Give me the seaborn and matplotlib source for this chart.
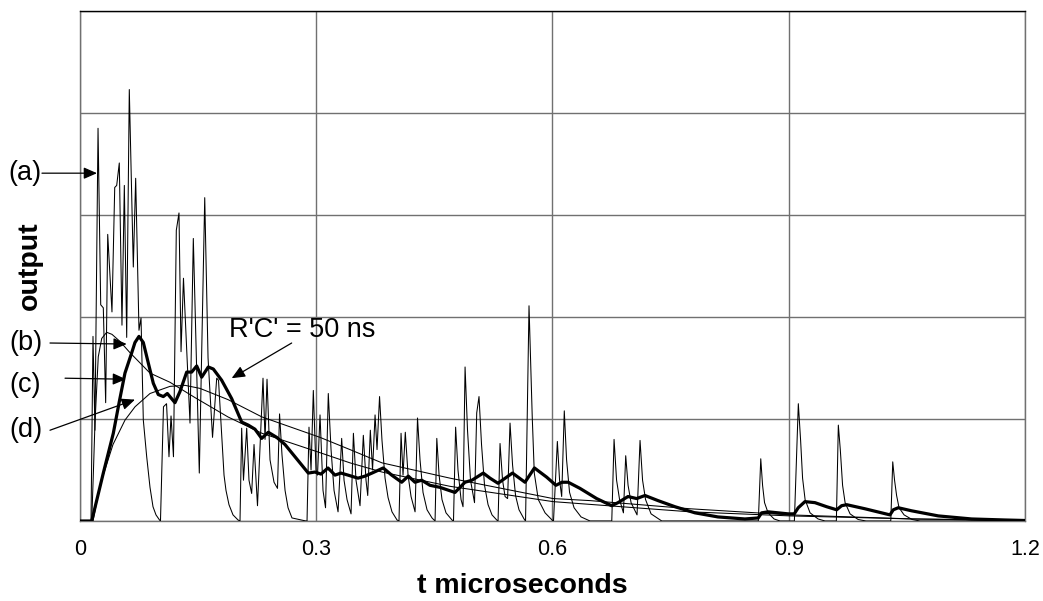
import matplotlib
matplotlib.use('Agg')
import matplotlib.pyplot as plt
import seaborn as sns
import pandas as pd

# (a) raw pulse train, vertices (t in microseconds)
trace_a_t = [0.0000, 0.0140, 0.0165, 0.0190, 0.0229, 0.0263, 0.0296, 0.0326, 0.0352, 0.0406,
             0.0441, 0.0466, 0.0499, 0.0533, 0.0563, 0.0593, 0.0626, 0.0677, 0.0707, 0.0749,
             0.0775, 0.0804, 0.0847, 0.0889, 0.0927, 0.0965, 0.1010,
             0.1022, 0.1060, 0.1099, 0.1130, 0.1156, 0.1187, 0.1223, 0.1257, 0.1283, 0.1314,
             0.1397, 0.1439, 0.1515, 0.1584, 0.1626, 0.1683, 0.1736, 0.1759, 0.1829, 0.1854,
             0.1892, 0.1943, 0.2007,
             0.2032, 0.2053, 0.2076, 0.2117, 0.2146, 0.2180, 0.2210, 0.2254, 0.2324, 0.2350,
             0.2375, 0.2413, 0.2464, 0.2508, 0.2534, 0.2565, 0.2604, 0.2642, 0.2692, 0.2870,
             0.2883, 0.2908, 0.2934, 0.2963, 0.2997, 0.3016, 0.3048, 0.3086, 0.3118, 0.3153,
             0.3188, 0.3226, 0.3277, 0.3323, 0.3353, 0.3391, 0.3442, 0.3472, 0.3505, 0.3556,
             0.3598, 0.3632, 0.3654, 0.3687, 0.3715, 0.3747, 0.3772, 0.3804, 0.3835, 0.3874,
             0.3912, 0.3962, 0.4026,
             0.4051, 0.4077, 0.4102, 0.4131, 0.4166, 0.4204, 0.4255, 0.4286, 0.4318, 0.4356,
             0.4407, 0.4470, 0.4509, 0.4531, 0.4560, 0.4597, 0.4648, 0.4724,
             0.4743, 0.4770, 0.4800, 0.4839, 0.4864, 0.4890, 0.4921, 0.4959, 0.5010, 0.5038,
             0.5067, 0.5099, 0.5137, 0.5182, 0.5232, 0.5292,
             0.5309, 0.5334, 0.5366, 0.5398, 0.5430, 0.5461, 0.5493, 0.5531, 0.5575, 0.5639,
             0.5658, 0.5702, 0.5743, 0.5769, 0.5820, 0.5906, 0.6007,
             0.6013, 0.6062, 0.6090, 0.6117, 0.6150, 0.6179, 0.6217, 0.6274, 0.6363, 0.6477,
             0.6753, 0.6782, 0.6814, 0.6852, 0.6901, 0.6930, 0.6960, 0.6998, 0.7074, 0.7112,
             0.7144, 0.7182, 0.7252, 0.7388,
             0.8614, 0.8645, 0.8668, 0.8693, 0.8738, 0.8814, 0.8890,
             0.9072, 0.9122, 0.9151, 0.9176, 0.9208, 0.9271, 0.9373, 0.9462,
             0.9605, 0.9630, 0.9655, 0.9684, 0.9716, 0.9779, 0.9881, 0.9982,
             1.0296, 1.0321, 1.0344, 1.0370, 1.0401, 1.0465, 1.0566, 1.0668, 1.2000]
trace_a_v = [0.00, 0.00, 1.81, 0.89, 3.85, 2.12, 2.09, 1.16, 2.81, 2.05,
             3.27, 3.29, 3.51, 1.92, 3.29, 1.80, 4.23, 2.49, 3.36, 1.87,
             1.99, 0.99, 0.63, 0.33, 0.14, 0.06, 0.01,
             0.00, 1.12, 1.15, 0.63, 1.03, 0.63, 2.85, 3.02, 1.66, 2.38,
             0.96, 2.77, 0.47, 3.17, 1.60, 0.82, 1.40, 1.38, 0.45, 0.30,
             0.16, 0.06, 0.01,
             0.00, 0.91, 0.40, 0.91, 0.40, 0.27, 0.75, 0.15, 1.40, 0.80,
             1.39, 0.60, 0.38, 0.32, 1.05, 0.65, 0.30, 0.13, 0.03, 0.00,
             0.00, 0.92, 0.50, 1.28, 0.50, 0.45, 1.04, 0.30, 0.13, 1.25,
             0.70, 0.30, 0.09, 0.81, 0.40, 0.21, 0.07, 0.86, 0.40, 0.15,
             0.84, 0.40, 0.25, 0.89, 0.50, 1.04, 0.70, 1.22, 0.79, 0.42,
             0.23, 0.09, 0.01,
             0.00, 0.86, 0.45, 0.87, 0.45, 0.24, 0.09, 1.01, 0.60, 0.28,
             0.11, 0.03, 0.00, 0.81, 0.45, 0.21, 0.08, 0.01,
             0.00, 0.92, 0.50, 0.21, 0.14, 1.51, 0.89, 0.40, 0.18, 1.06,
             1.22, 0.75, 0.35, 0.16, 0.06, 0.01,
             0.00, 0.76, 0.40, 0.24, 0.22, 0.96, 0.55, 0.25, 0.11, 0.02,
             0.00, 2.11, 1.02, 0.47, 0.21, 0.08, 0.00,
             0.00, 0.78, 0.40, 0.24, 1.08, 0.60, 0.28, 0.13, 0.04, 0.00,
             0.00, 0.80, 0.40, 0.21, 0.08, 0.64, 0.35, 0.18, 0.06, 0.79,
             0.40, 0.21, 0.07, 0.00,
             0.00, 0.61, 0.35, 0.18, 0.08, 0.02, 0.00,
             0.00, 1.15, 0.79, 0.42, 0.21, 0.08, 0.02, 0.00,
             0.00, 0.94, 0.70, 0.35, 0.18, 0.07, 0.015, 0.00,
             0.00, 0.58, 0.40, 0.25, 0.13, 0.06, 0.015, 0.00, 0.00]

# (b) fast smooth response
trace_b_t = [0.0000, 0.0149, 0.0171, 0.0190, 0.0232, 0.0276, 0.0339, 0.0406, 0.0508, 0.0635,
             0.0762, 0.0889, 0.1143, 0.1460, 0.1880, 0.2311, 0.3048, 0.3429, 0.3835, 0.4699,
             0.6007, 0.7747, 0.9017, 1.0579, 1.2000]
trace_b_v = [0.00, 0.00, 0.50, 0.96, 1.61, 1.79, 1.85, 1.83, 1.76, 1.65,
             1.55, 1.45, 1.36, 1.21, 1.02, 0.86, 0.67, 0.57, 0.48, 0.34,
             0.19, 0.09, 0.05, 0.02, 0.005]

# (d) slow smooth response
trace_d_t = [0.0000, 0.0165, 0.0254, 0.0419, 0.0572, 0.0699, 0.0889, 0.1143, 0.1334, 0.1524,
             0.1880, 0.2311, 0.3048, 0.3429, 0.3835, 0.4699, 0.6007, 0.6477, 0.7747, 0.9017,
             1.0579, 1.2000]
trace_d_v = [0.00, 0.00, 0.35, 0.75, 0.99, 1.12, 1.25, 1.32, 1.33, 1.30,
             1.19, 1.02, 0.82, 0.70, 0.57, 0.42, 0.22, 0.20, 0.12, 0.06,
             0.02, 0.005]

# (c) R'C' = 50 ns, thick
trace_c_t = [0.0000, 0.0149, 0.0296, 0.0423, 0.0499, 0.0571, 0.0657, 0.0698, 0.0749, 0.0804,
             0.0867, 0.0931, 0.0994, 0.1058, 0.1109, 0.1152, 0.1206, 0.1270, 0.1355, 0.1418,
             0.1482, 0.1545, 0.1629, 0.1693, 0.1799, 0.1926, 0.2053, 0.2137, 0.2222, 0.2307,
             0.2391, 0.2498, 0.2603, 0.2730, 0.2899, 0.2984, 0.3060, 0.3149, 0.3238, 0.3314,
             0.3403, 0.3530, 0.3619, 0.3708, 0.3851, 0.3958, 0.4085, 0.4169, 0.4254, 0.4339,
             0.4444, 0.4571, 0.4762, 0.4889, 0.4978, 0.5121, 0.5207, 0.5308, 0.5492, 0.5651,
             0.5771, 0.5926, 0.6044, 0.6120, 0.6200, 0.6349, 0.6561, 0.6752, 0.6832, 0.6959,
             0.7069, 0.7175, 0.7340, 0.7556, 0.7810, 0.8101, 0.8444, 0.8613, 0.8656, 0.8740,
             0.8867, 0.8994, 0.9070, 0.9121, 0.9206, 0.9333, 0.9482, 0.9609, 0.9672, 0.9736,
             0.9968, 1.0286, 1.0328, 1.0391, 1.0561, 1.0899, 1.1323, 1.1746, 1.2000]
trace_c_v = [0.00, 0.00, 0.47, 0.86, 1.17, 1.45, 1.65, 1.75, 1.81, 1.75,
             1.55, 1.35, 1.24, 1.22, 1.25, 1.21, 1.16, 1.27, 1.46, 1.46,
             1.52, 1.41, 1.51, 1.49, 1.38, 1.20, 0.97, 0.94, 0.90, 0.81,
             0.87, 0.82, 0.75, 0.63, 0.47, 0.48, 0.46, 0.52, 0.45, 0.47,
             0.45, 0.42, 0.44, 0.47, 0.52, 0.45, 0.38, 0.44, 0.38, 0.40,
             0.35, 0.33, 0.28, 0.38, 0.40, 0.47, 0.42, 0.37, 0.47, 0.38,
             0.52, 0.43, 0.35, 0.38, 0.38, 0.32, 0.22, 0.15, 0.18, 0.24,
             0.22, 0.25, 0.20, 0.14, 0.08, 0.04, 0.02, 0.03, 0.08, 0.09,
             0.08, 0.07, 0.07, 0.13, 0.19, 0.18, 0.14, 0.11, 0.15, 0.16,
             0.12, 0.06, 0.11, 0.13, 0.10, 0.05, 0.02, 0.01, 0.005]

x_ticks = [0, 0.3, 0.6, 0.9, 1.2]
x_tick_labels = ['0', '0.3', '0.6', '0.9', '1.2']
y_grid = [0, 1, 2, 3, 4, 5]

sns.set_style('white')
plt.rcParams['font.family'] = ['Liberation Sans', 'DejaVu Sans']
plt.rcParams['text.color'] = 'black'
plt.rcParams['axes.labelcolor'] = 'black'

fig = plt.figure(figsize=(10.43, 6.01), dpi=100)
ax = fig.add_axes([0.0767, 0.1331, 0.9060, 0.8486])

series = [
    (trace_a_t, trace_a_v, 0.75),
    (trace_b_t, trace_b_v, 0.75),
    (trace_d_t, trace_d_v, 0.75),
    (trace_c_t, trace_c_v, 2.3),
]
for t, v, lw in series:
    df = pd.DataFrame({'t': t, 'v': v})
    sns.lineplot(data=df, x='t', y='v', ax=ax, color='black', linewidth=lw,
                 estimator=None, sort=False, zorder=3)

ax.set_xlim(0, 1.2)
ax.set_ylim(0, 5)
ax.set_xticks(x_ticks)
ax.set_xticklabels(x_tick_labels, fontsize=15.5)
ax.set_yticks(y_grid)
ax.set_yticklabels([])
ax.tick_params(axis='y', length=0)
ax.tick_params(axis='x', length=5, width=1, color='#808080', labelcolor='black',
               pad=8, direction='out')
ax.grid(True, color='#707070', linewidth=1)
ax.set_axisbelow(True)
for side in ['left', 'right', 'bottom']:
    ax.spines[side].set_color('#707070')
    ax.spines[side].set_linewidth(1)
ax.spines['top'].set_color('black')
ax.spines['top'].set_linewidth(1)

ax.set_xlabel('t microseconds', fontsize=20.5, fontweight='bold')
ax.set_ylabel('output', fontsize=20.5, fontweight='bold')
ax.xaxis.set_label_coords(0.468, -0.102)
ax.yaxis.set_label_coords(-0.039, 0.5)

arrow = dict(arrowstyle='-|>,head_length=0.8,head_width=0.35', color='black',
             lw=0.9, shrinkA=0, shrinkB=0)
# label text, arrow start, arrow tip
labels = [
    ('(a)', (-0.0698, 3.41), (-0.0483, 3.41), (0.0216, 3.41)),
    ('(b)', (-0.0686, 1.745), (-0.0381, 1.745), (0.0593, 1.735)),
    ('(c)', (-0.0698, 1.333), (-0.0190, 1.40), (0.0584, 1.39)),
    ('(d)', (-0.0686, 0.89), (-0.0381, 0.89), (0.0698, 1.19)),
]
for txt, pos, start, tip in labels:
    ax.text(pos[0], pos[1], txt, fontsize=19.5, ha='center', va='center', clip_on=False)
    ax.annotate('', xy=tip, xytext=start, arrowprops=arrow, annotation_clip=False)

ax.text(0.1892, 1.80, "R'C' = 50 ns", fontsize=19.5, ha='left', va='baseline')
ax.annotate('', xy=(0.1926, 1.40), xytext=(0.2688, 1.745), arrowprops=arrow)

fig.savefig('out.png', dpi=100)
